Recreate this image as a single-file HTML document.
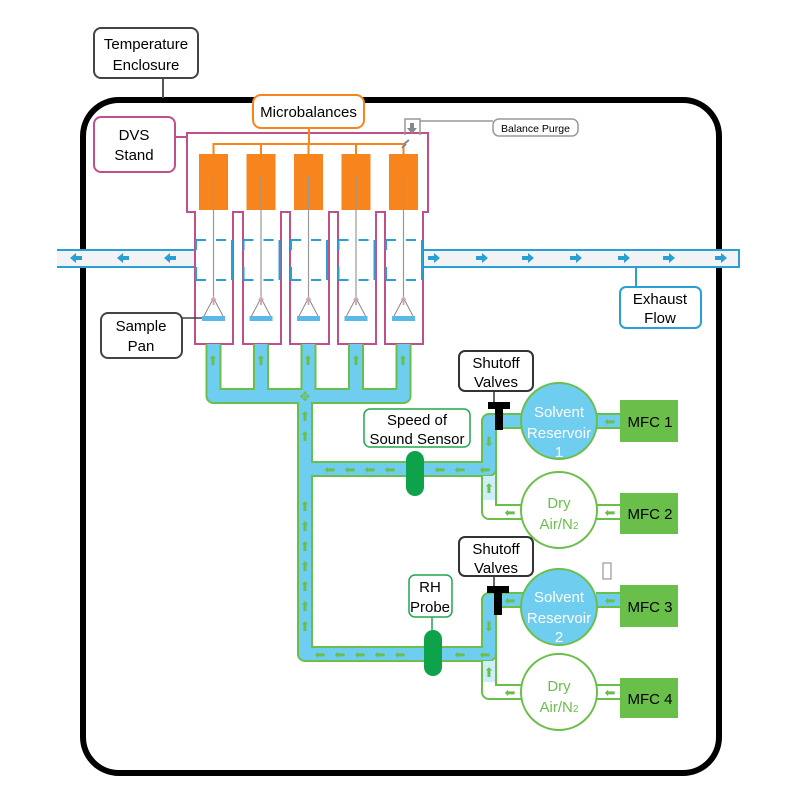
<!DOCTYPE html>
<html><head><meta charset="utf-8"><style>
html,body{margin:0;padding:0;background:#fff;}
svg{display:block;}
text{font-family:"Liberation Sans",sans-serif;}
</style></head><body>
<svg width="801" height="800" viewBox="0 0 801 800" xmlns="http://www.w3.org/2000/svg">
<!-- enclosure -->
<rect x="83" y="100" width="636" height="673" rx="36" fill="none" stroke="#000" stroke-width="6"/>
<line x1="163" y1="78" x2="163" y2="98" stroke="#555" stroke-width="2"/>
<rect x="94" y="28" width="104" height="50" rx="7" fill="#fff" stroke="#444" stroke-width="2"/>
<text x="146" y="49" font-size="15" text-anchor="middle">Temperature</text>
<text x="146" y="70" font-size="15" text-anchor="middle">Enclosure</text>

<!-- exhaust pipes -->
<rect x="57" y="250" width="140" height="17" fill="#f1f3f5"/>
<line x1="57" y1="250" x2="197" y2="250" stroke="#2a9fd6" stroke-width="2"/>
<line x1="57" y1="267" x2="197" y2="267" stroke="#2a9fd6" stroke-width="2"/>
<rect x="423" y="250" width="316" height="17" fill="#f1f3f5" stroke="#2a9fd6" stroke-width="2"/>
<rect x="420" y="251" width="6" height="15" fill="#f1f3f5"/>
<g fill="#2a9fd6">
<path d="M70,258 l6,-5 v3 h6 v4 h-6 v3z"/>
<path d="M117,258 l6,-5 v3 h6 v4 h-6 v3z"/>
<path d="M164,258 l6,-5 v3 h6 v4 h-6 v3z"/>
<g id="ra"><path d="M428,256 h6 v-3 l6,5 l-6,5 v-3 h-6z"/></g>
<use href="#ra" x="48"/><use href="#ra" x="94"/><use href="#ra" x="142"/><use href="#ra" x="190"/><use href="#ra" x="235"/><use href="#ra" x="287"/>
</g>
<line x1="636" y1="267" x2="636" y2="287" stroke="#2a9fd6" stroke-width="2"/>
<rect x="620" y="287" width="81" height="41" rx="6" fill="#fff" stroke="#2a9fd6" stroke-width="2"/>
<text x="660" y="304" font-size="15" text-anchor="middle">Exhaust</text>
<text x="660" y="323" font-size="15" text-anchor="middle">Flow</text>

<!-- DVS stand outline -->
<path d="M187,133 H428 V212 H423 V344 H385 V212 H376 V344 H338 V212 H329 V344 H290 V212 H281 V344 H243 V212 H233 V344 H195 V212 H187 Z" fill="#fff" stroke="#c0508a" stroke-width="2"/>
<rect x="94" y="117" width="81" height="55" rx="7" fill="#fff" stroke="#c0508a" stroke-width="2"/>
<line x1="175" y1="137" x2="187" y2="137" stroke="#c0508a" stroke-width="2"/>
<text x="134" y="140" font-size="15" text-anchor="middle">DVS</text>
<text x="134" y="160" font-size="15" text-anchor="middle">Stand</text>

<!-- blue dashed chambers -->
<g stroke="#2a9fd6" stroke-width="2" fill="none">
<g id="ch">
<path d="M196,240 h10 M216,240 h10 M196,280 h10 M216,280 h10 M232,240 V280"/>
<path d="M196,240 V250 M196,267 V280"/>
</g>
<use href="#ch" x="47.5"/><use href="#ch" x="95"/><use href="#ch" x="142.5"/><use href="#ch" x="190"/>
</g>

<!-- orange microbalances -->
<g fill="#f7841c">
<rect x="199" y="154" width="29" height="56"/><rect x="246.5" y="154" width="29" height="56"/><rect x="294" y="154" width="29" height="56"/><rect x="341.5" y="154" width="29" height="56"/><rect x="389" y="154" width="29" height="56"/>
</g>
<path d="M213.5,154 V144 H403.5 V154 M261,144 V154 M308.5,144 V154 M356,144 V154 M309,128 V144" stroke="#f7841c" stroke-width="2" fill="none"/>
<rect x="253" y="95" width="111" height="33" rx="8" fill="#fff" stroke="#f7841c" stroke-width="2"/>
<text x="308.5" y="117" font-size="15" text-anchor="middle">Microbalances</text>

<!-- balance purge -->
<path d="M405,135 V119 H420 V135 M420,121 H493" stroke="#999" stroke-width="1.5" fill="none"/>
<path d="M410,123 h4 v5 h3 l-5,6 l-5,-6 h3z" fill="#888"/>
<path d="M402,148 l4,-4 M404,144 l5,-4" stroke="#888" stroke-width="2"/>
<rect x="493" y="119" width="85" height="17" rx="6" fill="#fff" stroke="#999" stroke-width="1.5"/>
<text x="535.5" y="132" font-size="10.5" text-anchor="middle">Balance Purge</text>

<!-- rods and pans -->
<g id="pan">
<line x1="213.5" y1="176" x2="213.5" y2="298" stroke="#999" stroke-width="1.2"/>
<path d="M213.5,298 L204,316 M213.5,298 L223,316" stroke="#888" stroke-width="1"/>
<path d="M213.5,296 l-3,4 h2 v5 h2 v-5 h2z" fill="#d9a3c4"/>
<rect x="202" y="316" width="23" height="5" fill="#5ab8e6"/>
</g>
<use href="#pan" x="47.5"/><use href="#pan" x="95"/><use href="#pan" x="142.5"/><use href="#pan" x="190"/>
<line x1="182" y1="318" x2="202" y2="318" stroke="#444" stroke-width="1.5"/>
<rect x="101" y="313" width="81" height="45" rx="7" fill="#fff" stroke="#444" stroke-width="2"/>
<text x="141" y="331" font-size="15" text-anchor="middle">Sample</text>
<text x="141" y="351" font-size="15" text-anchor="middle">Pan</text>

<!-- dry air loops (white) -->
<g fill="none" stroke-linejoin="round">
<path d="M525,512 H489 V469" stroke="#6abf4b" stroke-width="16"/>
<path d="M525,512 H489 V469" stroke="#fff" stroke-width="12"/>
<path d="M525,692 H489 V654" stroke="#6abf4b" stroke-width="16"/>
<path d="M525,692 H489 V654" stroke="#fff" stroke-width="12"/>
<path d="M596,512 H622 M596,692 H622" stroke="#6abf4b" stroke-width="16"/>
<path d="M596,512 H622 M596,692 H622" stroke="#fff" stroke-width="12"/>
<path d="M213.5,344 V396 H403.5 V344 M261,344 V396 M308.5,344 V396 M356,344 V396 M305,396 V654 H489 V600 H525 M305,469 H489 V421 H525 M596,421 H622 M596,600 H622" stroke="#6abf4b" stroke-width="16"/>
<path d="M213.5,344 V396 H403.5 V344 M261,344 V396 M308.5,344 V396 M356,344 V396 M305,396 V654 H489 V600 H525 M305,469 H489 V421 H525 M596,421 H622 M596,600 H622" stroke="#6fcdf0" stroke-width="12"/>
<path d="M489,476 V500 M489,661 V682" stroke="#cdeefa" stroke-width="12"/>
</g>
<!-- green arrows -->
<g fill="#6abf4b" font-size="13" font-family="DejaVu Sans" text-anchor="middle">
<text x="213" y="365">⬆</text><text x="261" y="365">⬆</text><text x="308" y="365">⬆</text><text x="356" y="365">⬆</text><text x="403" y="365">⬆</text>
<text x="305" y="401">✥</text>
<text x="305" y="421">⬆</text><text x="305" y="441">⬆</text><text x="305" y="511">⬆</text><text x="305" y="531">⬆</text><text x="305" y="551">⬆</text><text x="305" y="571">⬆</text><text x="305" y="591">⬆</text><text x="305" y="611">⬆</text><text x="305" y="631">⬆</text>
<text x="330" y="474">⬅</text><text x="350" y="474">⬅</text><text x="370" y="474">⬅</text><text x="390" y="474">⬅</text><text x="440" y="474">⬅</text><text x="460" y="474">⬅</text><text x="485" y="474">⬅</text>
<text x="489" y="446">⬇</text><text x="489" y="493">⬆</text><text x="510" y="517">⬅</text><text x="610" y="426">⬅</text><text x="610" y="517">⬅</text>
<text x="320" y="659">⬅</text><text x="340" y="659">⬅</text><text x="360" y="659">⬅</text><text x="380" y="659">⬅</text><text x="400" y="659">⬅</text><text x="460" y="659">⬅</text><text x="485" y="659">⬅</text>
<text x="489" y="631">⬇</text><text x="489" y="677">⬆</text><text x="510" y="697">⬅</text><text x="510" y="605">⬅</text><text x="610" y="605">⬅</text><text x="610" y="697">⬅</text>
</g>

<!-- circles -->
<circle cx="559" cy="421" r="38" fill="#6fcdf0" stroke="#6abf4b" stroke-width="2"/>
<circle cx="559" cy="510" r="38" fill="#fff" stroke="#6abf4b" stroke-width="2"/>
<circle cx="559" cy="607" r="38" fill="#6fcdf0" stroke="#6abf4b" stroke-width="2"/>
<circle cx="559" cy="692" r="38" fill="#fff" stroke="#6abf4b" stroke-width="2"/>
<g font-size="15" text-anchor="middle">
<text x="559" y="417" fill="#fff">Solvent</text><text x="559" y="438" fill="#fff">Reservoir</text><text x="559" y="457" fill="#fff">1</text>
<text x="559" y="508" fill="#6abf4b">Dry</text><text x="559" y="529" fill="#6abf4b">Air/N<tspan font-size="10">2</tspan></text>
<text x="559" y="602" fill="#fff">Solvent</text><text x="559" y="623" fill="#fff">Reservoir</text><text x="559" y="642" fill="#fff">2</text>
<text x="559" y="691" fill="#6abf4b">Dry</text><text x="559" y="712" fill="#6abf4b">Air/N<tspan font-size="10">2</tspan></text>
</g>
<!-- MFC -->
<g fill="#6abf4b">
<rect x="620" y="400" width="58" height="42"/><rect x="620" y="493" width="58" height="41"/><rect x="620" y="585" width="58" height="42"/><rect x="620" y="678" width="58" height="40"/>
</g>
<g font-size="15" text-anchor="middle">
<text x="650" y="427">MFC 1</text><text x="650" y="519">MFC 2</text><text x="650" y="612">MFC 3</text><text x="650" y="704">MFC 4</text>
</g>
<rect x="603" y="563" width="8" height="16" fill="none" stroke="#999" stroke-width="1.2"/>

<!-- shutoff valves -->
<line x1="494" y1="391" x2="494" y2="402" stroke="#333" stroke-width="1.5"/>
<rect x="459" y="351" width="74" height="40" rx="6" fill="#fff" stroke="#333" stroke-width="2"/>
<text x="496" y="368" font-size="15" text-anchor="middle">Shutoff</text>
<text x="496" y="387" font-size="15" text-anchor="middle">Valves</text>
<path d="M488,402 H510 V409 H503 V430 H495 V409 H488 Z" fill="#000"/>
<line x1="494" y1="576" x2="494" y2="586" stroke="#333" stroke-width="1.5"/>
<rect x="459" y="537" width="74" height="39" rx="6" fill="#fff" stroke="#333" stroke-width="2"/>
<text x="496" y="554" font-size="15" text-anchor="middle">Shutoff</text>
<text x="496" y="573" font-size="15" text-anchor="middle">Valves</text>
<path d="M487,586 H509 V593 H502 V615 H494 V593 H487 Z" fill="#000"/>

<!-- sensors -->
<rect x="364" y="409" width="106" height="38" rx="6" fill="#fff" stroke="#1fa84f" stroke-width="1.5"/>
<text x="417" y="425" font-size="15" text-anchor="middle">Speed of</text>
<text x="417" y="444" font-size="15" text-anchor="middle">Sound Sensor</text>
<rect x="406" y="451" width="18" height="45" rx="9" fill="#0ea24a"/>
<line x1="432" y1="617" x2="432" y2="630" stroke="#1fa84f" stroke-width="1.5"/>
<rect x="409" y="575" width="43" height="42" rx="6" fill="#fff" stroke="#1fa84f" stroke-width="1.5"/>
<text x="430" y="592" font-size="15" text-anchor="middle">RH</text>
<text x="430" y="612" font-size="15" text-anchor="middle">Probe</text>
<rect x="424" y="630" width="18" height="46" rx="9" fill="#0ea24a"/>
</svg>
</body></html>
